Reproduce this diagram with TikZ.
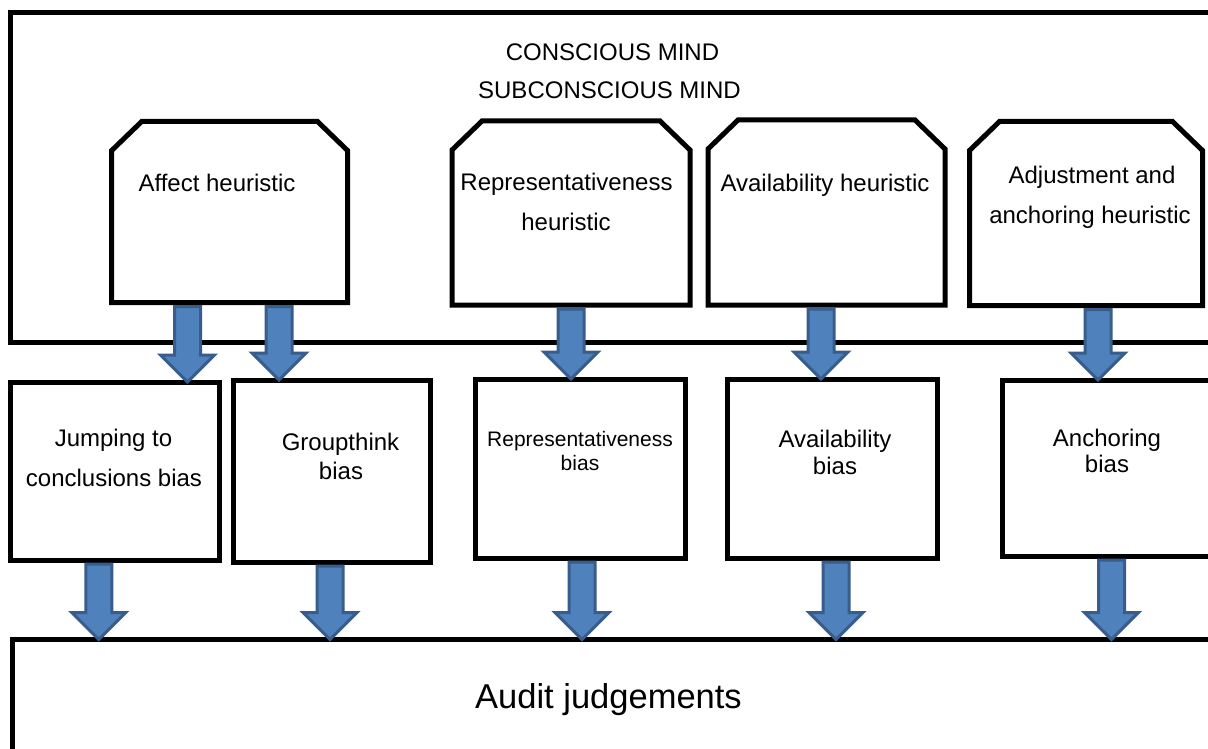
\documentclass[tikz,border=0pt]{standalone}
\usepackage{fontspec}
\setmainfont{Liberation Sans}
\usetikzlibrary{calc}
\definecolor{arrfill}{RGB}{79,129,189}
\definecolor{arrline}{RGB}{56,93,138}
\newcommand\blockarrow[2]{%
  \path[barrow] let \p1=(#1), \p2=(#2) in
    (\x1-13pt,\y1) -- (\x1+13pt,\y1) -- (\x1+13pt,\y2+27pt) -- (\x1+27pt,\y2+27pt)
    -- (\x1,\y2) -- (\x1-27pt,\y2+27pt) -- (\x1-13pt,\y2+27pt) -- cycle;}
\newcommand\chamferoutline[1]{%
  \path[heurline] (#1.south west) -- ([yshift=-29pt]#1.north west)
    -- ([xshift=30pt]#1.north west) -- ([xshift=-30pt]#1.north east)
    -- ([yshift=-29pt]#1.north east) -- (#1.south east) -- cycle;}
\tikzset{
  framebox/.style={draw=black, line width=5pt, fill=white, rectangle, inner sep=0pt, outer sep=0pt},
  heur/.style={rectangle, inner sep=0pt, outer sep=0pt},
  heurline/.style={draw=black, line width=5pt, fill=white, line join=miter},
  lbl/.style={anchor=base, inner sep=0pt, font=\fontsize{24}{28}\selectfont},
  lblsmall/.style={anchor=base, inner sep=0pt, font=\fontsize{21}{25}\selectfont},
  lblbig/.style={anchor=base, inner sep=0pt, font=\fontsize{34.5}{40}\selectfont},
  barrow/.style={fill=arrfill, draw=arrline, line width=3pt, line join=miter}
}
\begin{document}
\begin{tikzpicture}[x=1pt,y=-1pt]
\useasboundingbox (0,0) rectangle (1208,749);
\clip (0,0) rectangle (1208,749);
\fill[white] (0,0) rectangle (1208,749);

% big frame: conscious / subconscious mind
\node[framebox, anchor=north west, minimum width=1230, minimum height=329.5] (mind) at (10,12.5) {};
\node[lbl] (tcon) at (612.5,61) {CONSCIOUS MIND};
\node[lbl] (tsub) at (609.5,99) {SUBCONSCIOUS MIND};

% heuristics (chamfered top corners)
\node[heur, minimum width=235.8, minimum height=181] (aff) at (229.6,212) {};
\node[heur, minimum width=238, minimum height=184] (repr) at (571,213) {};
\node[heur, minimum width=237, minimum height=185] (avail) at (826.5,212.5) {};
\node[heur, minimum width=233, minimum height=184] (adj) at (1086,213.5) {};
\chamferoutline{aff}
\chamferoutline{repr}
\chamferoutline{avail}
\chamferoutline{adj}

\node[lbl] (taff) at (217,191) {Affect heuristic};
\node[lbl] (trepr1) at (566.5,190) {Representativeness};
\node[lbl] (trepr2) at (566,230) {heuristic};
\node[lbl] (tavail) at (825,192) {Availability heuristic};
\node[lbl] (tadj1) at (1092,184) {Adjustment and};
\node[lbl] (tadj2) at (1090,223) {anchoring heuristic};

% biases
\node[framebox, minimum width=209.5, minimum height=178] (jump) at (114.75,471) {};
\node[framebox, minimum width=197, minimum height=182] (group) at (331.5,471) {};
\node[framebox, minimum width=210, minimum height=179] (rbias) at (580.5,468.5) {};
\node[framebox, minimum width=210, minimum height=179] (abias) at (832.5,468.5) {};
\node[framebox, minimum width=213, minimum height=176] (anch) at (1108.5,468) {};

\node[lbl] (tjump1) at (113.5,446) {Jumping to};
\node[lbl] (tjump2) at (114,486) {conclusions bias};
\node[lbl] (tgroup1) at (340.5,450) {Groupthink};
\node[lbl] (tgroup2) at (341,479) {bias};
\node[lblsmall] (trb1) at (580,446) {Representativeness};
\node[lblsmall] (trb2) at (580,470) {bias};
\node[lbl] (tab1) at (835,447) {Availability};
\node[lbl] (tab2) at (835,474) {bias};
\node[lbl] (tan1) at (1107,446) {Anchoring};
\node[lbl] (tan2) at (1107,472) {bias};

% audit judgements
\node[framebox, anchor=north west, minimum width=1230, minimum height=140] (audit) at (12.5,639.5) {};
\node[lblbig] (taudit) at (608.5,708) {Audit judgements};

% arrows heuristics -> biases
\blockarrow{[xshift=-42pt,yshift=-4pt]aff.south}{jump.north}
\blockarrow{[xshift=49.5pt,yshift=-4pt]aff.south}{group.north}
\blockarrow{[yshift=-4pt]repr.south}{rbias.north}
\blockarrow{[xshift=-5.5pt,yshift=-4pt]avail.south}{abias.north}
\blockarrow{[xshift=12pt,yshift=-4pt]adj.south}{anch.north}

% arrows biases -> audit judgements
\blockarrow{[xshift=-16pt,yshift=-4pt]jump.south}{audit.north}
\blockarrow{[xshift=-1.5pt,yshift=-4pt]group.south}{audit.north}
\blockarrow{[xshift=1.5pt,yshift=-4pt]rbias.south}{audit.north}
\blockarrow{[xshift=3.5pt,yshift=-4pt]abias.south}{audit.north}
\blockarrow{[xshift=3pt,yshift=-4pt]anch.south}{audit.north}
\end{tikzpicture}
\end{document}
